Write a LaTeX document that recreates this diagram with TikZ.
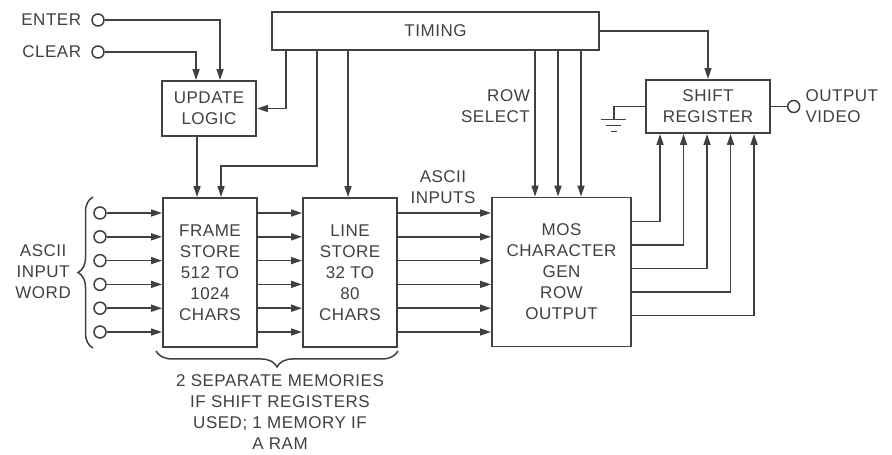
\documentclass[tikz,border=0pt]{standalone}
\usepackage{fontspec}
\setmainfont{Liberation Sans}[LetterSpace=3]
\usetikzlibrary{arrows.meta, positioning, calc, decorations.pathreplacing}
\definecolor{ink}{HTML}{404040}
\tikzset{
    block/.style={rectangle, draw=ink, line width=1.9pt, align=center, text=ink, inner sep=0pt},
    terminal/.style={circle, draw=ink, line width=1.5pt, minimum size=12pt, inner sep=0pt},
    txt/.style={text=ink, align=center, inner sep=1pt},
    wire/.style={draw=ink, line width=1.6pt},
    arrow/.style={-{Triangle[length=11pt,width=7pt]}, draw=ink, line width=1.6pt},
    brace_left/.style={decorate, decoration={brace, amplitude=15pt}, draw=ink, line width=1.5pt},
    brace_down/.style={decorate, decoration={brace, mirror, amplitude=16pt}, draw=ink, line width=1.5pt}
}
\begin{document}
\begin{tikzpicture}[x=1pt, y=-1pt, font=\fontsize{17}{21}\selectfont]
    \useasboundingbox (0,0) rectangle (892,455);
    % blocks
    \node (timing) [block, minimum width=327pt, minimum height=38pt] at (435.5,31) {TIMING};
    \node (update) [block, minimum width=94pt, minimum height=55pt] at (209,108.5) {UPDATE\\LOGIC};
    \node (framestore) [block, minimum width=94pt, minimum height=149pt] at (210,272.5) {FRAME\\STORE\\512 TO\\1024\\CHARS};
    \node (linestore) [block, minimum width=94pt, minimum height=149pt] at (350,272.5) {LINE\\STORE\\32 TO\\80\\CHARS};
    \node (chargen) [block, minimum width=139pt, minimum height=149pt] at (561.5,272) {MOS\\CHARACTER\\GEN\\ROW\\OUTPUT};
    \node (shiftreg) [block, minimum width=124pt, minimum height=53pt] at (708,106.5) {SHIFT\\REGISTER};

    % terminals and labels
    \node (enterpin) [terminal] at (98,20) {};
    \node (clearpin) [terminal] at (98,52) {};
    \node (enterlbl) [txt, left=9pt of enterpin] {ENTER};
    \node (clearlbl) [txt, left=9pt of clearpin] {CLEAR};
    \node (outpin) [terminal, right=16pt of shiftreg] {};
    \node (outlbl) [txt, right=4pt of outpin, align=left] {OUTPUT\\VIDEO};
    \node (asciilbl) [txt] at (443,187) {ASCII\\INPUTS};
    \node (rowlbl) [txt, align=right, anchor=east] at (531,106) {ROW\\SELECT};
    \node (wordlbl) [txt, anchor=east] at (72,272) {ASCII\\INPUT\\WORD};
    \node (memlbl) [txt] at (280,412) {2 SEPARATE MEMORIES\\IF SHIFT REGISTERS\\USED; 1 MEMORY IF\\A RAM};

    % data path
    \foreach \i in {0,...,5} {
        \node (in\i) [terminal] at (100,{213+23.8*\i}) {};
        \draw [arrow] (in\i) -- (in\i -| framestore.west);
        \draw [arrow] (in\i -| framestore.east) -- (in\i -| linestore.west);
        \draw [arrow] (in\i -| linestore.east) -- (in\i -| chargen.west);
    }
    \draw [brace_left] ([xshift=-7pt,yshift=-16pt]in5.center) -- ([xshift=-7pt,yshift=16pt]in0.center);
    \draw [brace_down] ([xshift=-6pt,yshift=-3pt]framestore.south west) -- ([yshift=-3pt]linestore.south east);

    % control
    \draw [arrow] (enterpin) -| ([xshift=59pt]update.north west);
    \draw [arrow] (clearpin) -| ([xshift=35pt]update.north west);
    \draw [arrow] ([xshift=15pt]timing.south west) |- (update.east);
    \draw [arrow] ([xshift=46pt]timing.south west) -- ++(0,115) -| ([xshift=59pt]framestore.north west);
    \draw [arrow] ([xshift=46pt]linestore.north west |- timing.south) -- ([xshift=46pt]linestore.north west);
    \draw [arrow] ([xshift=35pt]framestore.north west |- update.south) -- ([xshift=35pt]framestore.north west);
    \foreach \dx in {44,67,90}
        \draw [arrow] ([xshift=\dx pt]chargen.north west |- timing.south) -- ([xshift=\dx pt]chargen.north west);
    \draw [arrow] (timing.east) -| (shiftreg.north);

    % character rows into shift register
    \foreach \i in {0,...,4} {
        \pgfmathsetmacro\dy{25+23.5*\i}
        \pgfmathsetmacro\dx{15+23.5*\i}
        \draw [arrow] ([yshift=-\dy pt]chargen.north east) -| ([xshift=\dx pt]shiftreg.south west);
    }

    % ground and output
    \coordinate (gnd) at ([xshift=-31pt,yshift=-13pt]shiftreg.west);
    \draw [wire] (shiftreg.west) -| (gnd);
    \draw [wire] ([xshift=-13pt]gnd) -- ([xshift=12pt]gnd);
    \draw [wire] ([xshift=-8pt,yshift=-6pt]gnd) -- ([xshift=7pt,yshift=-6pt]gnd);
    \draw [wire] ([xshift=-3pt,yshift=-12pt]gnd) -- ([xshift=3pt,yshift=-12pt]gnd);
    \draw [wire] (shiftreg.east) -- (outpin);
\end{tikzpicture}
\end{document}
